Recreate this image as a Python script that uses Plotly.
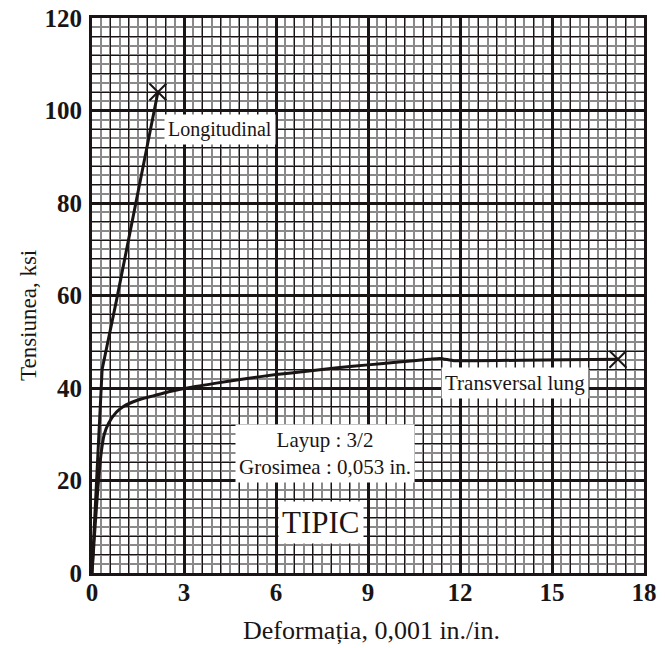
import plotly.graph_objects as go

# Data
long_x = [0.0, 0.08, 0.2, 0.33, 0.8, 1.5, 2.15]
long_y = [0.0, 10.0, 26.0, 44.0, 59.0, 82.0, 104.0]

trans_x = [0.0, 0.1, 0.2, 0.3, 0.4, 0.55, 0.8, 1.0, 1.5, 2.0, 2.5, 3.0, 4.0, 5.0, 6.0, 7.0, 8.0, 9.0, 10.0, 11.0, 11.35, 11.8, 12.5, 14.0, 15.5, 17.15]
trans_y = [0.0, 10.0, 19.0, 26.0, 30.0, 32.5, 34.8, 35.9, 37.4, 38.3, 39.2, 39.9, 41.0, 42.0, 42.9, 43.6, 44.4, 45.0, 45.6, 46.2, 46.4, 45.9, 45.9, 46.0, 46.1, 46.2]

x_ticks = [0, 3, 6, 9, 12, 15, 18]
y_ticks = [0, 20, 40, 60, 80, 100, 120]

SERIF = "Liberation Serif"
INK = "#1a1414"

L, R, T, B = 84, 29, 10, 83
PW, PH = 665 - L - R, 648 - T - B

fig = go.Figure()

fig.add_trace(go.Scatter(x=long_x, y=long_y, mode="lines",
                         line=dict(color=INK, width=3), showlegend=False))
fig.add_trace(go.Scatter(x=trans_x, y=trans_y, mode="lines",
                         line=dict(color=INK, width=3, shape="spline", smoothing=0.6),
                         showlegend=False))
fig.add_trace(go.Scatter(x=[long_x[-1], trans_x[-1]], y=[long_y[-1], trans_y[-1]], mode="markers",
                         marker=dict(symbol="x-thin-open", size=17, color=INK,
                                     line=dict(color=INK, width=2)),
                         showlegend=False))

fig.update_layout(
    width=665, height=648,
    margin=dict(l=L, r=R, t=T, b=B, autoexpand=False),
    paper_bgcolor="white", plot_bgcolor="white",
    font=dict(family=SERIF, color=INK),
    xaxis=dict(range=[0, 18], tickvals=x_ticks, ticktext=[str(v) for v in x_ticks],
               showgrid=True, gridcolor=INK, gridwidth=2.5, automargin=False,
               minor=dict(dtick=0.3, tick0=0, showgrid=True, gridcolor="#8a8a8a", gridwidth=1.6),
               showline=True, linecolor=INK, linewidth=3, mirror=True,
               ticks="", zeroline=False, ticklabelstandoff=-5, ticklabeloverflow="allow",
               tickfont=dict(family=SERIF, size=25, weight="bold", color=INK)),
    yaxis=dict(range=[0, 120], tickvals=y_ticks, ticktext=[str(v) for v in y_ticks],
               showgrid=True, gridcolor=INK, gridwidth=2.5, automargin=False,
               minor=dict(dtick=2, tick0=0, showgrid=True, gridcolor="#8a8a8a", gridwidth=1.6),
               showline=True, linecolor=INK, linewidth=3, mirror=True,
               ticks="", zeroline=False, ticklabelstandoff=2, ticklabeloverflow="allow",
               tickfont=dict(family=SERIF, size=25, weight="bold", color=INK)),
    xaxis2=dict(range=[0, 18], overlaying="x", dtick=0.6, tick0=0, showgrid=True,
                gridcolor=INK, gridwidth=1, showticklabels=False, zeroline=False),
    yaxis2=dict(range=[0, 120], overlaying="y", dtick=4, tick0=0, showgrid=True,
                gridcolor=INK, gridwidth=1, showticklabels=False, zeroline=False),
)
fig.add_trace(go.Scatter(x=[None], y=[None], xaxis="x2", yaxis="y2", showlegend=False))

ann = [
    dict(x=4.17, y=96, text="Longitudinal", size=20),
    dict(x=13.8, y=41.1, text="Transversal lung", size=21),
    dict(x=7.6, y=25.9, text="Layup : 3/2<br>Grosimea : 0,053 in.", size=21),
    dict(x=7.47, y=11.0, text="TIPIC", size=31),
]
for a in ann:
    fig.add_annotation(x=a["x"], y=a["y"], xref="x", yref="y", text=a["text"], showarrow=False,
                       bgcolor="white", borderpad=3,
                       font=dict(family=SERIF, color=INK, size=a["size"]))

# axis titles placed in paper coordinates (relative to plot area)
fig.add_annotation(x=(370 - 91) / 552, y=-(630 - 573) / PH, xref="paper", yref="paper",
                   text="Deformația, 0,001 in./in.", showarrow=False,
                   xanchor="center", yanchor="middle",
                   font=dict(family=SERIF, size=26, color=INK))
fig.add_annotation(x=-(91 - 27) / PW, y=(573 - 316) / PH, xref="paper", yref="paper",
                   text="Tensiunea, ksi", textangle=-90, showarrow=False,
                   xanchor="center", yanchor="middle",
                   font=dict(family=SERIF, size=23, color=INK))

fig.write_html("out.html")
